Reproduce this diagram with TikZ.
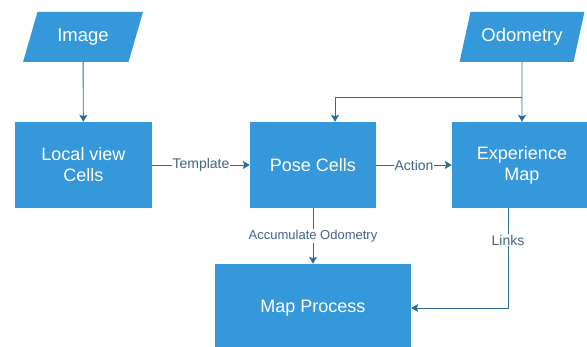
\documentclass[tikz,border=0pt]{standalone}
\usepackage{fontspec}
\setmainfont{Liberation Sans}
\usepackage{xcolor}
\usepackage{tikz}
\usetikzlibrary{shapes,positioning,arrows.meta}
\definecolor{boxblue}{RGB}{53,152,219}
\definecolor{lineblue}{RGB}{42,108,158}
\definecolor{labelblue}{RGB}{66,100,134}
\tikzset{blk/.style={rectangle,fill=boxblue,text=white,align=center,font=\fontsize{18}{21}\selectfont,minimum height=86pt,inner sep=2pt},
         io/.style={trapezium,trapezium left angle=67,trapezium right angle=113,trapezium stretches=true,fill=boxblue,text=white,font=\fontsize{18.5}{21}\selectfont,minimum height=50pt,inner sep=2pt},
         lbl/.style={fill=white,text=labelblue,inner sep=1pt,font=\fontsize{14}{16}\selectfont},
         lnk/.style={draw=lineblue,line width=0.9pt}}

\begin{document}
\begin{tikzpicture}[>={Stealth[length=7pt,width=8pt,inset=1.5pt]},x=1pt,y=-1pt]
    \useasboundingbox (0,0) rectangle (587,347);
    \clip (0,0) rectangle (587,347);
    \node[io,minimum width=120pt] (img)at (83,37) {Image};
    \node[io,minimum width=125pt] (odo)at (522,37) {Odometry};
    \node[blk,minimum width=137pt] (lvc)at (83.5,165) {Local view\\Cells};
    \node[blk,minimum width=126pt] (pc)at (313,165) {Pose Cells};
    \node[blk,minimum width=140pt] (em)at (522,165) {Experience\\Map};
    \node[blk,minimum width=196pt,minimum height=88pt] (mp)at (313,308) {Map Process};
    \coordinate (split) at (522,97);

    \draw [lnk,->] (img) to [] (lvc);
    \draw [lnk,->] (odo) to [] (em);
    \draw [lnk,->] (split) -| ([xshift=22pt]pc.north);
    \draw [lnk,->] (lvc) to []node[lbl]{Template} (pc);
    \draw [lnk,->] (pc) to []node[lbl]{Action} (em);
    \draw [lnk,->] (pc) to []node[lbl,font=\fontsize{13}{15}\selectfont]{Accumulate Odometry} (mp);
    \draw [lnk,->] ([xshift=-14pt]em.south) |- node[lbl,pos=0.16]{Links} (mp.east);
\end{tikzpicture}
\end{document}
